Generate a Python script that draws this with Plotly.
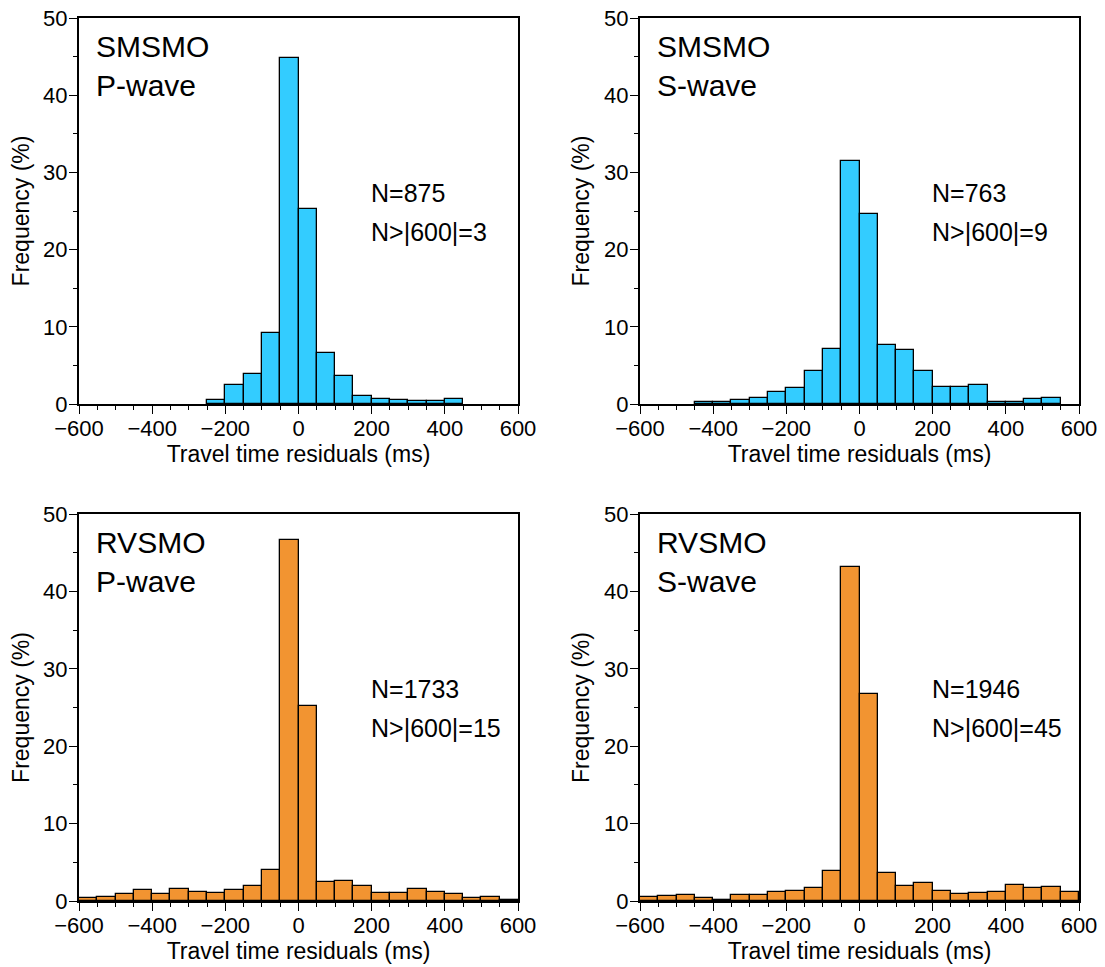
import numpy as np
import plotly.graph_objects as go

# Bin edges (ms)
bin_edges = list(range(-600, 601, 50))

# Frequencies (%) per 50 ms bin, from -600 to 600
smsmo_p = [0, 0, 0, 0, 0, 0, 0, 0.55, 2.5, 3.9, 9.2, 44.8, 25.2, 6.6, 3.6, 1.0,
           0.7, 0.55, 0.45, 0.45, 0.7, 0, 0, 0]
smsmo_s = [0, 0, 0, 0.3, 0.3, 0.55, 0.8, 1.55, 2.1, 4.3, 7.1, 31.5, 24.6, 7.65,
           6.95, 4.3, 2.2, 2.2, 2.5, 0.3, 0.3, 0.65, 0.75, 0]
rvsmo_p = [0.45, 0.55, 0.85, 1.45, 0.85, 1.55, 1.1, 1.0, 1.4, 1.9, 4.0, 46.7, 25.2,
           2.45, 2.6, 2.0, 1.0, 1.0, 1.55, 1.1, 0.85, 0.45, 0.55, 0.15]
rvsmo_s = [0.55, 0.65, 0.8, 0.45, 0.15, 0.75, 0.75, 1.15, 1.25, 1.7, 3.85, 43.1, 26.8,
           3.65, 1.95, 2.3, 1.35, 0.95, 1.0, 1.1, 2.1, 1.7, 1.85, 1.1]

panels = [
    dict(values=smsmo_p, net="SMSMO", wave="P-wave", n="N=875", nout="N>|600|=3", color="#33CCFF"),
    dict(values=smsmo_s, net="SMSMO", wave="S-wave", n="N=763", nout="N>|600|=9", color="#33CCFF"),
    dict(values=rvsmo_p, net="RVSMO", wave="P-wave", n="N=1733", nout="N>|600|=15", color="#F29431"),
    dict(values=rvsmo_s, net="RVSMO", wave="S-wave", n="N=1946", nout="N>|600|=45", color="#F29431"),
]

W, H = 1105, 967
OFF = 8  # page body margin
xdoms = [((79 - OFF) / W, (518 - OFF) / W), ((640 - OFF) / W, (1079 - OFF) / W)]
ydoms = [(1 - (404 - OFF) / H, 1 - (18 - OFF) / H), (1 - (901 - OFF) / H, 1 - (514 - OFF) / H)]

edges = np.array(bin_edges, dtype=float)
centers = (edges[:-1] + edges[1:]) / 2
widths = np.diff(edges)

FONT = "Liberation Sans, Arial, sans-serif"
fig = go.Figure()
annotations = []
for k, p in enumerate(panels):
    row, col = divmod(k, 2)
    sfx = "" if k == 0 else str(k + 1)
    xa, ya = "x" + sfx, "y" + sfx
    yvals = [v if v > 0 else None for v in p["values"]]
    fig.add_trace(go.Bar(
        x=centers, y=yvals, width=widths,
        marker=dict(color=p["color"], line=dict(color="black", width=1.3)),
        xaxis=xa, yaxis=ya, showlegend=False,
    ))
    common = dict(showline=True, linecolor="black", linewidth=2, mirror=True,
                  ticks="outside", ticklen=8, tickwidth=1.3, tickcolor="black",
                  showgrid=False, zeroline=False, automargin=False,
                  ticklabeloverflow="allow",
                  tickfont=dict(family=FONT, size=22, color="black"))
    fig.layout["xaxis" + sfx] = dict(
        common, domain=xdoms[col], anchor=ya, range=[-600, 600], dtick=200, tick0=0,
        ticklabelstandoff=-4,
        minor=dict(dtick=50, ticks="outside", ticklen=4, tickwidth=1, tickcolor="black"),
        title=dict(text="Travel time residuals (ms)", standoff=1,
                   font=dict(family=FONT, size=23, color="black")),
    )
    fig.layout["yaxis" + sfx] = dict(
        common, domain=ydoms[row], anchor=xa, range=[0, 50], dtick=10,
        ticklabelstandoff=-3,
        minor=dict(dtick=5, ticks="outside", ticklen=4, tickwidth=1, tickcolor="black"),
        title=dict(text="Frequency (%)", standoff=8,
                   font=dict(family=FONT, size=23, color="black")),
    )
    xd, yd = xa + " domain", ya + " domain"
    for txt, yy in [(p["net"], 0.926), (p["wave"], 0.826)]:
        annotations.append(dict(text=txt, xref=xd, yref=yd, x=0.034, y=yy,
                                xanchor="left", yanchor="middle", showarrow=False,
                                font=dict(family=FONT, size=30, color="black")))
    for txt, yy in [(p["n"], 0.547), (p["nout"], 0.446)]:
        annotations.append(dict(text=txt, xref=xd, yref=yd, x=0.66, y=yy,
                                xanchor="left", yanchor="middle", showarrow=False,
                                font=dict(family=FONT, size=25, color="black")))

fig.update_layout(
    width=W, height=H, margin=dict(l=0, r=0, t=0, b=0),
    paper_bgcolor="white", plot_bgcolor="white",
    annotations=annotations, bargap=0,
    font=dict(family=FONT, color="black"),
)
fig.write_html("out.html")
